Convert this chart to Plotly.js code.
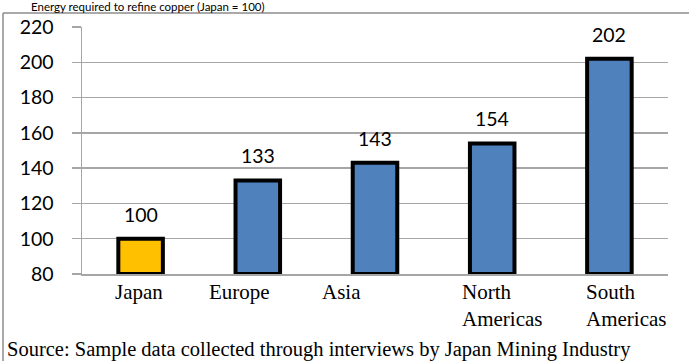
<!DOCTYPE html>
<html>
<head>
<meta charset="utf-8">
<script src="https://cdn.plot.ly/plotly-3.0.1.min.js"></script>
<style>
  html, body { margin: 0; padding: 0; background: #ffffff; }
  #chart { width: 689px; height: 361px; }
</style>
</head>
<body>
<div id="chart"></div>
<script>
// Regions and relative refining energy (Japan = 100)
const regions = ["Japan", "Europe", "Asia", "North<br>Americas", "South<br>Americas"];
const energyIndex = [100, 133, 143, 154, 202];
const yTicks = [80, 100, 120, 140, 160, 180, 200, 220];

const titleText = "Energy required to refine copper (Japan = 100)";
const sourceText = "Source: Sample data collected through interviews by Japan Mining Industry";

// Styling
const GOLD = "#FFC000";
const BLUE = "#4F81BD";
const GRID = "#A6A6A6";
const NUM_FONT = "Lato, 'Open Sans', sans-serif";
const SERIF = "'Liberation Serif', 'DejaVu Serif', serif";

const barColors = regions.map((r, i) => i === 0 ? GOLD : BLUE);
// category-label offsets (px) from each bar centre, left-aligned text boxes
const labelShift = [-28, -51, -55, -32, -25];

const W = 689, H = 361;
const M = { l: 82, r: 21, t: 27, b: 87 };
const plotW = W - M.l - M.r, plotH = H - M.t - M.b;
const px = x => (x - M.l) / plotW;          // pixel -> paper x
const py = y => (H - M.b - y) / plotH;      // pixel -> paper y

const trace = {
  type: "bar",
  x: regions,
  y: energyIndex.map(v => v - yTicks[0]),
  base: yTicks[0],
  width: 0.38,
  marker: { color: barColors, line: { color: "#000000", width: 4 } },
  hoverinfo: "skip"
};

const annotations = [];

// value labels above bars
regions.forEach((r, i) => {
  annotations.push({
    x: r, y: energyIndex[i], xref: "x", yref: "y",
    text: String(energyIndex[i]),
    showarrow: false, xanchor: "center", yanchor: "bottom", yshift: 11,
    font: { family: NUM_FONT, size: 19.5, color: "#000000" }
  });
});

// category labels under the axis
regions.forEach((r, i) => {
  annotations.push({
    x: r, y: 0, xref: "x", yref: "paper",
    text: r, align: "left",
    showarrow: false, xanchor: "left", yanchor: "top",
    xshift: labelShift[i], yshift: -4,
    font: { family: SERIF, size: 21, color: "#000000" }
  });
});

// source note
annotations.push({
  x: px(5), y: py(336), xref: "paper", yref: "paper",
  text: sourceText, showarrow: false, xanchor: "left", yanchor: "top",
  font: { family: SERIF, size: 20.5, color: "#000000" }
});

// figure title in the strip above the frame
annotations.push({
  x: px(30), y: py(-1.5), xref: "paper", yref: "paper",
  text: titleText, showarrow: false, xanchor: "left", yanchor: "top",
  borderpad: 0,
  font: { family: NUM_FONT, size: 11.5, color: "#000000" }
});

const frame = { color: "#8C8C8C", width: 1.5 };
const shapes = [
  { type: "line", xref: "paper", yref: "paper", x0: px(3), x1: px(W + 2), y0: py(13), y1: py(13), line: frame },
  { type: "line", xref: "paper", yref: "paper", x0: px(3), x1: px(3), y0: py(13), y1: py(H + 2), line: frame }
];

const layout = {
  width: W, height: H,
  margin: M,
  paper_bgcolor: "#ffffff",
  plot_bgcolor: "#ffffff",
  showlegend: false,
  xaxis: {
    type: "category",
    range: [-0.5, regions.length - 0.5],
    showticklabels: false,
    ticks: "",
    showline: true, linecolor: GRID, linewidth: 1.5,
    showgrid: false, zeroline: false,
    fixedrange: true
  },
  yaxis: {
    range: [yTicks[0], yTicks[yTicks.length - 1]],
    tickvals: yTicks,
    ticktext: yTicks.map(String),
    ticks: "outside", ticklen: 9, tickcolor: GRID, tickwidth: 1.5,
    ticklabelstandoff: 14,
    showline: true, linecolor: GRID, linewidth: 1.5,
    showgrid: true, gridcolor: GRID, gridwidth: 1.5,
    zeroline: false,
    tickfont: { family: NUM_FONT, size: 19.5, color: "#000000" },
    fixedrange: true
  },
  annotations: annotations,
  shapes: shapes
};

Plotly.newPlot("chart", [trace], layout, { displayModeBar: false, staticPlot: true });
</script>
</body>
</html>
